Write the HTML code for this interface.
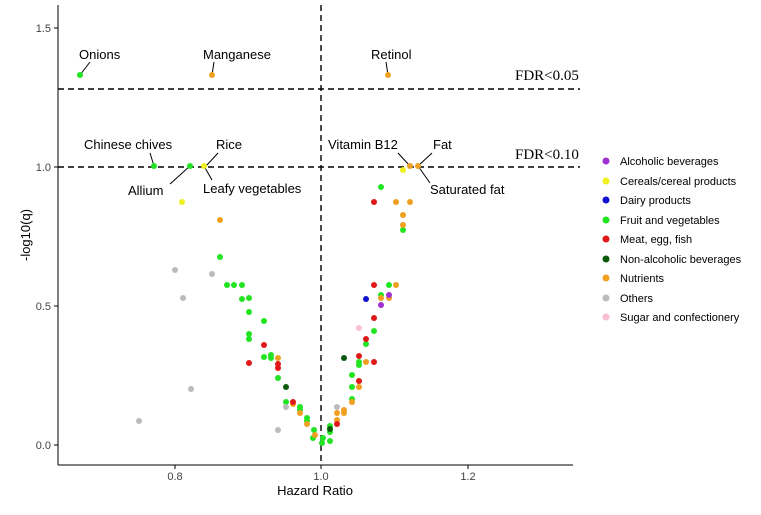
<!DOCTYPE html>
<html><head><style>body{margin:0;background:#fff}svg text{font-family:"Liberation Sans",sans-serif}</style></head><body>
<svg width="761" height="510" xmlns="http://www.w3.org/2000/svg">
<rect width="761" height="510" fill="#fff"/>
<g stroke="#000" stroke-width="1" fill="none">
<line x1="58" y1="465" x2="573" y2="465"/>
<line x1="58" y1="5" x2="58" y2="465"/>
<line x1="175" y1="465" x2="175" y2="469"/><line x1="321" y1="465" x2="321" y2="469"/><line x1="468" y1="465" x2="468" y2="469"/>
<line x1="54" y1="445" x2="58" y2="445"/><line x1="54" y1="306" x2="58" y2="306"/><line x1="54" y1="167" x2="58" y2="167"/><line x1="54" y1="28" x2="58" y2="28"/>
<g stroke-dasharray="6,4" stroke-width="1.4"><line x1="321" y1="5" x2="321" y2="465"/><line x1="58" y1="89" x2="580" y2="89"/><line x1="58" y1="167" x2="580" y2="167"/></g>
</g>
<g font-size="11" fill="#444" text-anchor="end"><text x="51" y="449">0.0</text><text x="51" y="310">0.5</text><text x="51" y="171">1.0</text><text x="51" y="32">1.5</text></g>
<g font-size="11" fill="#444" text-anchor="middle"><text x="175" y="480">0.8</text><text x="321" y="480">1.0</text><text x="468" y="480">1.2</text></g>
<text x="315" y="495" font-size="13" text-anchor="middle">Hazard Ratio</text>
<text transform="translate(30,235) rotate(-90)" font-size="13" text-anchor="middle">-log10(q)</text>
<text x="515" y="80" style="font-family:'Liberation Serif',serif;font-size:15px">FDR&lt;0.05</text>
<text x="515" y="159" style="font-family:'Liberation Serif',serif;font-size:15px">FDR&lt;0.10</text>
<g font-size="13">
<text x="79" y="59">Onions</text><text x="203" y="59">Manganese</text><text x="371" y="59">Retinol</text>
<text x="84" y="149">Chinese chives</text><text x="216" y="149">Rice</text><text x="128" y="195">Allium</text><text x="203" y="193">Leafy vegetables</text>
<text x="328" y="149">Vitamin B12</text><text x="433" y="149">Fat</text><text x="430" y="194">Saturated fat</text>
</g>
<g stroke="#000" stroke-width="1" fill="none">
<line x1="80" y1="75" x2="90" y2="62"/><line x1="212" y1="75" x2="214" y2="62"/><line x1="388" y1="75" x2="386" y2="62"/>
<line x1="154" y1="166" x2="150" y2="153"/><line x1="190" y1="166" x2="170" y2="184"/><line x1="206" y1="166" x2="218" y2="153"/><line x1="204" y1="166" x2="212" y2="180"/>
<line x1="410" y1="166" x2="398" y2="153"/><line x1="418" y1="166" x2="432" y2="153"/><line x1="418" y1="166" x2="430" y2="183"/>
</g>
<g stroke="none">
<g fill="#22e422">
<circle cx="80" cy="75" r="3"/><circle cx="154" cy="166" r="3"/><circle cx="190" cy="166" r="3"/>
<circle cx="220" cy="257" r="3"/><circle cx="227" cy="285" r="3"/><circle cx="234" cy="285" r="3"/><circle cx="242" cy="285" r="3"/><circle cx="242" cy="299" r="3"/><circle cx="249" cy="298" r="3"/><circle cx="249" cy="312" r="3"/><circle cx="264" cy="321" r="3"/><circle cx="249" cy="334" r="3"/><circle cx="249" cy="339" r="3"/><circle cx="264" cy="357" r="3"/><circle cx="271" cy="355" r="3"/><circle cx="271" cy="358" r="3"/><circle cx="278" cy="378" r="3"/><circle cx="286" cy="402" r="3"/><circle cx="300" cy="407" r="3"/><circle cx="300" cy="410" r="3"/><circle cx="307" cy="418" r="3"/><circle cx="307" cy="421" r="3"/><circle cx="314" cy="430" r="3"/><circle cx="322" cy="443" r="3"/>
<circle cx="381" cy="187" r="3"/><circle cx="403" cy="230" r="3"/><circle cx="389" cy="285" r="3"/><circle cx="381" cy="295" r="3"/><circle cx="374" cy="331" r="3"/><circle cx="366" cy="344" r="3"/><circle cx="359" cy="362" r="3"/><circle cx="359" cy="365" r="3"/><circle cx="352" cy="375" r="3"/><circle cx="352" cy="387" r="3"/><circle cx="352" cy="399" r="3"/><circle cx="330" cy="426" r="3"/><circle cx="330" cy="432" r="3"/><circle cx="330" cy="441" r="3"/><circle cx="323" cy="438" r="3"/><circle cx="313" cy="438" r="3"/>
</g>
<g fill="#f0a020">
<circle cx="212" cy="75" r="3"/><circle cx="388" cy="75" r="3"/><circle cx="220" cy="220" r="3"/><circle cx="410" cy="166" r="3"/><circle cx="418" cy="166" r="3"/>
<circle cx="278" cy="358" r="3"/><circle cx="293" cy="404" r="3"/><circle cx="300" cy="413" r="3"/><circle cx="307" cy="424" r="3"/><circle cx="315" cy="435" r="3"/>
<circle cx="396" cy="202" r="3"/><circle cx="410" cy="202" r="3"/><circle cx="403" cy="215" r="3"/><circle cx="403" cy="225" r="3"/><circle cx="396" cy="285" r="3"/><circle cx="381" cy="298" r="3"/><circle cx="389" cy="298" r="3"/><circle cx="366" cy="362" r="3"/><circle cx="359" cy="387" r="3"/><circle cx="352" cy="402" r="3"/><circle cx="337" cy="413" r="3"/><circle cx="344" cy="410" r="3"/><circle cx="344" cy="413" r="3"/><circle cx="337" cy="420" r="3"/>
</g>
<g fill="#f0f020"><circle cx="204" cy="166" r="3"/><circle cx="182" cy="202" r="3"/><circle cx="403" cy="170" r="3"/></g>
<g fill="#e01818">
<circle cx="264" cy="345" r="3"/><circle cx="249" cy="363" r="3"/><circle cx="278" cy="364" r="3"/><circle cx="278" cy="368" r="3"/><circle cx="293" cy="402" r="3"/>
<circle cx="374" cy="202" r="3"/><circle cx="374" cy="285" r="3"/><circle cx="374" cy="318" r="3"/><circle cx="366" cy="339" r="3"/><circle cx="359" cy="356" r="3"/><circle cx="374" cy="362" r="3"/><circle cx="359" cy="381" r="3"/><circle cx="337" cy="424" r="3"/>
</g>
<g fill="#bbb"><circle cx="212" cy="274" r="3"/><circle cx="183" cy="298" r="3"/><circle cx="191" cy="389" r="3"/><circle cx="286" cy="407" r="3"/><circle cx="278" cy="430" r="3"/><circle cx="139" cy="421" r="3"/><circle cx="175" cy="270" r="3"/><circle cx="337" cy="407" r="3"/></g>
<g fill="#0a5a0a"><circle cx="286" cy="387" r="3"/><circle cx="344" cy="358" r="3"/><circle cx="330" cy="429" r="3"/></g>
<g fill="#a030d0"><circle cx="389" cy="295" r="3"/><circle cx="381" cy="305" r="3"/></g>
<circle cx="366" cy="299" r="3" fill="#1010d0"/>
<circle cx="359" cy="328" r="3" fill="#f8c0d0"/>
</g>
<g font-size="11">
<circle cx="606" cy="161" r="3.5" fill="#a030d0"/><text x="620" y="165">Alcoholic beverages</text>
<circle cx="606" cy="181" r="3.5" fill="#f0f020"/><text x="620" y="185">Cereals/cereal products</text>
<circle cx="606" cy="200" r="3.5" fill="#1010d0"/><text x="620" y="204">Dairy products</text>
<circle cx="606" cy="220" r="3.5" fill="#22e422"/><text x="620" y="224">Fruit and vegetables</text>
<circle cx="606" cy="239" r="3.5" fill="#e01818"/><text x="620" y="243">Meat, egg, fish</text>
<circle cx="606" cy="259" r="3.5" fill="#0a5a0a"/><text x="620" y="263">Non-alcoholic beverages</text>
<circle cx="606" cy="278" r="3.5" fill="#f0a020"/><text x="620" y="282">Nutrients</text>
<circle cx="606" cy="298" r="3.5" fill="#bbb"/><text x="620" y="302">Others</text>
<circle cx="606" cy="317" r="3.5" fill="#f8c0d0"/><text x="620" y="321">Sugar and confectionery</text>
</g>
</svg>
</body></html>
